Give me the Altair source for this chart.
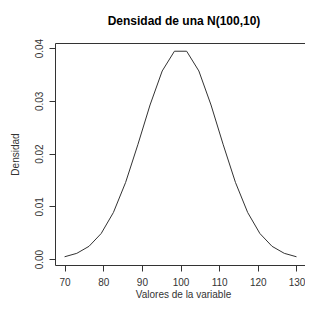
import altair as alt
import pandas as pd

# Values
x_vals = [70.00, 73.16, 76.32, 79.47, 82.63, 85.79, 88.95, 92.11, 95.26, 98.42,
          101.58, 104.74, 107.89, 111.05, 114.21, 117.37, 120.53, 123.68, 126.84, 130.00]
dens_vals = [0.00044, 0.00109, 0.00242, 0.00485, 0.00883, 0.01453, 0.02167, 0.02921, 0.03566, 0.03940,
             0.03940, 0.03566, 0.02921, 0.02167, 0.01453, 0.00883, 0.00485, 0.00242, 0.00109, 0.00044]
x_ticks = [70, 80, 90, 100, 110, 120, 130]
y_ticks = [0.00, 0.01, 0.02, 0.03, 0.04]

df = pd.DataFrame({"x": x_vals, "d": dens_vals})

FONT = "Liberation Sans"
INK = "#333333"

chart = alt.Chart(df).mark_line(color=INK, strokeWidth=1).encode(
    x=alt.X("x:Q",
            scale=alt.Scale(domain=[67.52, 132.72], nice=False, zero=False),
            axis=alt.Axis(values=x_ticks, format="d", title="Valores de la variable",
                          grid=False, domain=False, tickSize=6, tickColor=INK,
                          labelPadding=6, labelFont=FONT, labelFontSize=10, labelColor=INK,
                          titleFont=FONT, titleFontSize=10, titleFontWeight="normal",
                          titleColor=INK, titlePadding=2, titleX=128)),
    y=alt.Y("d:Q",
            scale=alt.Scale(domain=[-0.00112, 0.04096], nice=False, zero=False),
            axis=alt.Axis(values=y_ticks, format=".2f", title="Densidad",
                          grid=False, domain=False, tickSize=6, tickColor=INK,
                          labelAngle=270, labelAlign="center", labelBaseline="bottom",
                          labelPadding=5, labelFont=FONT, labelFontSize=10, labelColor=INK,
                          titleFont=FONT, titleFontSize=10, titleFontWeight="normal",
                          titleColor=INK, titleAngle=270, titleBaseline="bottom",
                          titlePadding=14)),
).properties(
    width=252,
    height=222,
    autosize=alt.AutoSizeParams(type="none"),
    padding={"left": 47, "top": 35, "right": -2, "bottom": 34},
    title=alt.Title("Densidad de una N(100,10)", font=FONT, fontSize=12, fontWeight="bold",
                    color="#000000", anchor="middle", frame="group", baseline="alphabetic",
                    offset=4, dx=3, dy=3),
).configure_view(stroke=INK, strokeWidth=1)

chart.save("out.html", embed_options={"renderer": "svg", "actions": False})
